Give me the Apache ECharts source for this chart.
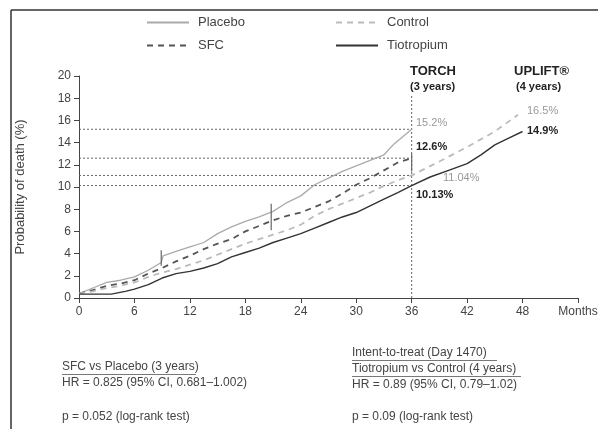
<!DOCTYPE html>
<html>
<head>
<meta charset="utf-8">
<script src="https://cdn.jsdelivr.net/npm/echarts@6/dist/echarts.min.js"></script>
<style>
  html, body { margin: 0; padding: 0; background: #fff; }
  #chart { width: 598px; height: 429px; }
</style>
</head>
<body>
<div id="chart"></div>
<script>
// months since randomisation, probability of death (%)
const placebo = [
  [0, 0.4], [1.5, 0.9], [3, 1.4], [4.5, 1.6], [6, 1.9], [7.5, 2.5], [8.9, 3.2], [9.1, 3.8],
  [10.5, 4.2], [12, 4.6], [13.5, 5.0], [15, 5.8], [16.5, 6.4], [18, 6.9], [19.5, 7.3],
  [21, 7.8], [22.5, 8.6], [24, 9.2], [25.5, 10.2], [27, 10.8], [28.5, 11.4], [30, 11.9],
  [31.5, 12.4], [33, 12.9], [34, 13.8], [35, 14.5], [36, 15.2]
]
const sfc = [
  [0, 0.4], [1.5, 0.7], [3, 1.1], [4.5, 1.3], [6, 1.6], [7.5, 2.2], [9, 2.7], [10.5, 3.3],
  [12, 3.8], [13.5, 4.4], [15, 4.9], [16.5, 5.3], [18, 6.0], [19.5, 6.5], [21, 7.0],
  [22.5, 7.4], [24, 7.7], [25.5, 8.2], [27, 8.7], [28.5, 9.4], [30, 10.2], [31.5, 10.8],
  [33, 11.5], [34.5, 12.2], [36, 12.6]
]
const control = [
  [0, 0.4], [1.5, 0.6], [3, 0.9], [4.5, 1.1], [6, 1.4], [7.5, 1.9], [9, 2.3], [10.5, 2.6],
  [12, 3.0], [13.5, 3.4], [15, 3.9], [16.5, 4.4], [18, 4.9], [19.5, 5.3], [21, 5.7],
  [22.5, 6.1], [24, 6.6], [25.5, 7.4], [27, 8.0], [28.5, 8.5], [30, 9.0], [31.5, 9.5],
  [33, 10.1], [34.5, 10.6], [36, 11.04], [39, 12.3], [42, 13.6], [45, 15.0], [47.5, 16.5]
]
const tiotropium = [
  [0, 0.35], [3.5, 0.35], [5, 0.6], [6, 0.8], [7.5, 1.2], [9, 1.8], [10.5, 2.2], [12, 2.4],
  [13.5, 2.7], [15, 3.1], [16.5, 3.7], [18, 4.1], [19.5, 4.5], [21, 5.0], [22.5, 5.4],
  [24, 5.8], [25.5, 6.3], [27, 6.8], [28.5, 7.3], [30, 7.7], [31.5, 8.3], [33, 8.9],
  [34.5, 9.5], [36, 10.13], [38, 10.9], [40, 11.5], [42, 12.1], [43.5, 12.9], [45, 13.8],
  [46.5, 14.4], [48, 15.0]
]
// small vertical ticks on the curves: [month, low, high]
const censorTicks = [[8.9, 2.9, 4.3], [20.8, 6.1, 8.5], [36, 11.4, 13.0]]
// TORCH 3-year reference levels
const torchLevels = [15.2, 12.6, 11.04, 10.13]
const torchMonth = 36
const torchTop = 18.2
const xTicks = [0, 6, 12, 18, 24, 30, 36, 42, 48]
const xEndLabel = 'Months'

const FONT = "'Liberation Sans', Arial, sans-serif"
const chart = echarts.init(document.getElementById('chart'))

const dotted = { color: '#666', width: 1, type: [2, 2] }

const refSeries = torchLevels.map(v => ({
  type: 'line', silent: true, symbol: 'none', z: 1,
  data: [[0, v], [torchMonth, v]],
  lineStyle: dotted
}))
refSeries.push({
  type: 'line', silent: true, symbol: 'none', z: 1,
  data: [[torchMonth, 0], [torchMonth, torchTop]],
  lineStyle: dotted
})
const tickSeries = censorTicks.map(([m, lo, hi]) => ({
  type: 'line', silent: true, symbol: 'none', z: 4,
  data: [[m, lo], [m, hi]],
  lineStyle: { color: '#666', width: 1.2 }
}))

const text = (x, y, s, style = {}) => ({
  type: 'text', left: x, top: y,
  style: Object.assign({ text: s, font: `12px ${FONT}`, fill: '#444' }, style)
})
const uline = (x1, x2, y) => ({
  type: 'line', shape: { x1, y1: y, x2, y2: y }, style: { stroke: '#555', lineWidth: 0.8 }
})

const legendBase = {
  orient: 'vertical', top: 11, itemWidth: 42, itemHeight: 14, itemGap: 10,
  itemStyle: { opacity: 0 },
  textStyle: { fontSize: 13, color: '#444', padding: [0, 0, 0, 4] }
}

chart.setOption({
  animation: false,
  textStyle: { fontFamily: FONT },
  grid: { left: 79, right: 20, top: 76, bottom: 131, outerBoundsMode: 'none' },
  legend: [
    Object.assign({ data: ['Placebo', 'SFC'], left: 141 }, legendBase),
    Object.assign({ data: ['Control', 'Tiotropium'], left: 330 }, legendBase)
  ],
  xAxis: {
    type: 'value', min: 0, max: 54, interval: 6,
    axisLine: { lineStyle: { color: '#444' } },
    axisTick: { length: 5, lineStyle: { color: '#444' } },
    splitLine: { show: false },
    axisLabel: {
      color: '#444', fontSize: 12, margin: 8,
      formatter: v => (xTicks.includes(v) ? String(v) : xEndLabel)
    }
  },
  yAxis: {
    type: 'value', min: 0, max: 20, interval: 2,
    name: 'Probability of death (%)', nameLocation: 'middle', nameGap: 52,
    nameTextStyle: { color: '#444', fontSize: 13 },
    axisLine: { show: true, lineStyle: { color: '#444' } },
    axisTick: { show: true, length: 5, lineStyle: { color: '#444' } },
    splitLine: { show: false },
    axisLabel: { color: '#444', fontSize: 12, margin: 8 }
  },
  series: [
    ...refSeries,
    { name: 'Placebo', type: 'line', symbol: 'none', z: 3, data: placebo,
      lineStyle: { color: '#aaa', width: 1.3 }, itemStyle: { color: '#aaa' } },
    { name: 'SFC', type: 'line', symbol: 'none', z: 3, data: sfc,
      lineStyle: { color: '#555', width: 1.8, type: [6, 5] }, itemStyle: { color: '#555' } },
    { name: 'Control', type: 'line', symbol: 'none', z: 3, data: control,
      lineStyle: { color: '#bbb', width: 1.8, type: [6, 5] }, itemStyle: { color: '#bbb' } },
    { name: 'Tiotropium', type: 'line', symbol: 'none', z: 3, data: tiotropium,
      lineStyle: { color: '#333', width: 1.4 }, itemStyle: { color: '#333' } },
    ...tickSeries
  ],
  graphic: [
    // frame
    { type: 'line', shape: { x1: 11, y1: 10, x2: 598, y2: 10 }, style: { stroke: '#333', lineWidth: 1.5 } },
    { type: 'line', shape: { x1: 11, y1: 10, x2: 11, y2: 429 }, style: { stroke: '#333', lineWidth: 1.5 } },
    // study headers
    text(410, 65, 'TORCH', { font: `bold 13px ${FONT}`, fill: '#222' }),
    text(410, 81, '(3 years)', { font: `bold 11px ${FONT}`, fill: '#222' }),
    text(514, 65, 'UPLIFT®', { font: `bold 13px ${FONT}`, fill: '#222' }),
    text(516, 81, '(4 years)', { font: `bold 11px ${FONT}`, fill: '#222' }),
    // end-point values
    text(416, 117, '15.2%', { font: `11px ${FONT}`, fill: '#999' }),
    text(416, 141, '12.6%', { font: `bold 11px ${FONT}`, fill: '#222' }),
    text(443, 172, '11.04%', { font: `11px ${FONT}`, fill: '#999' }),
    text(416, 189, '10.13%', { font: `bold 11px ${FONT}`, fill: '#222' }),
    text(527, 105, '16.5%', { font: `11px ${FONT}`, fill: '#999' }),
    text(527, 125, '14.9%', { font: `bold 11px ${FONT}`, fill: '#222' }),
    // statistics
    text(62, 361, 'SFC vs Placebo (3 years)'),
    uline(62, 196, 374.5),
    text(62, 377, 'HR = 0.825 (95% CI, 0.681–1.002)'),
    text(62, 411, 'p = 0.052 (log-rank test)'),
    text(352, 347, 'Intent-to-treat (Day 1470)'),
    uline(352, 497, 360.5),
    text(352, 363, 'Tiotropium vs Control (4 years)'),
    uline(352, 521, 376.5),
    text(352, 379, 'HR = 0.89 (95% CI, 0.79–1.02)'),
    text(352, 411, 'p = 0.09 (log-rank test)')
  ]
})
</script>
</body>
</html>
